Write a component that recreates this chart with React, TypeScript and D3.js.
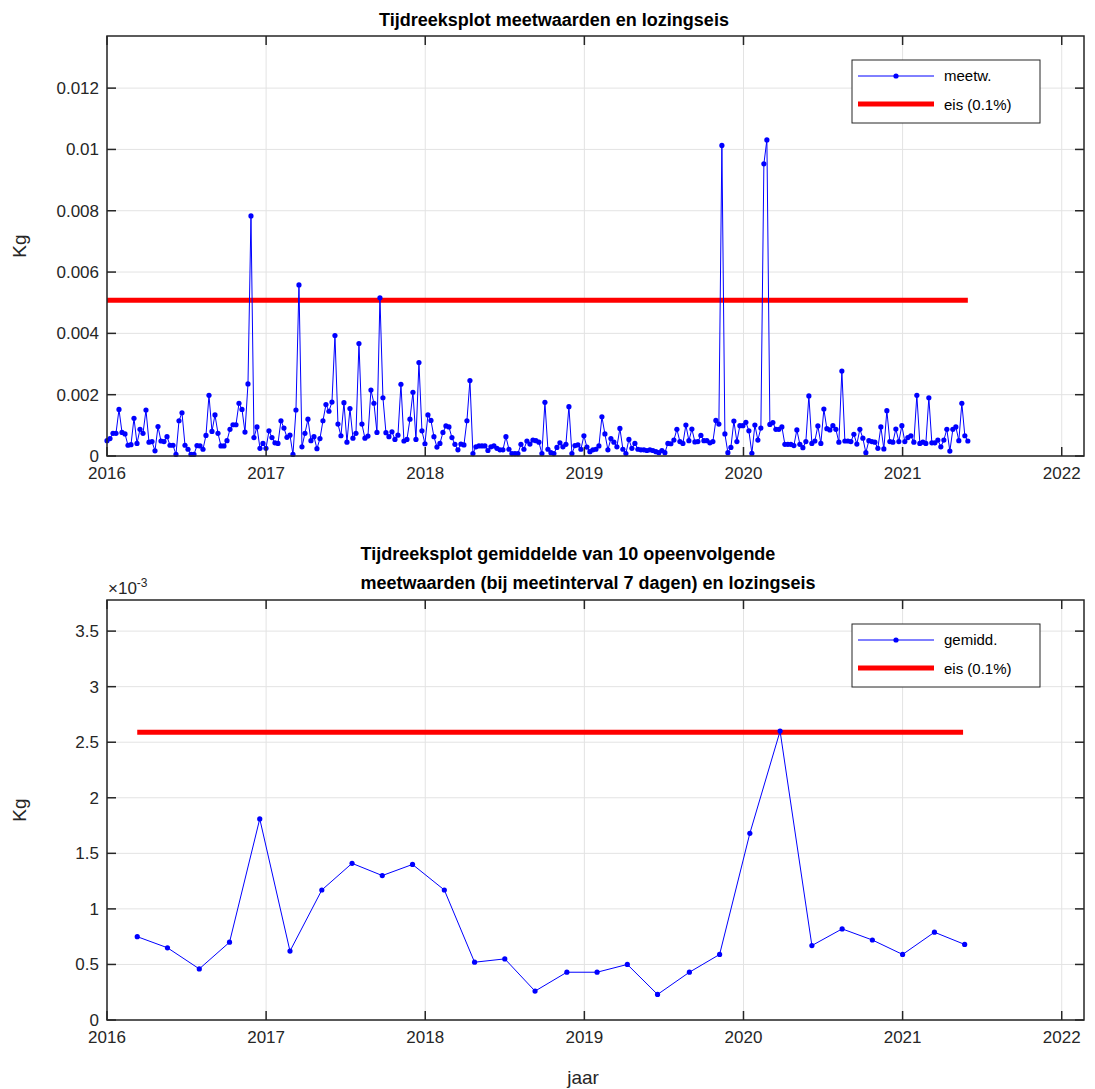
import React from 'react';
import * as d3 from 'd3';

// weekly measured values (x1e-3 Kg), 2016 .. mid 2021
const meetw = [
  0.50,0.57,0.74,0.74,1.52,0.77,0.72,0.35,0.37,1.23,0.41,0.87,0.74,1.50,0.45,0.47,0.17,0.96,0.49,0.47,
  0.63,0.35,0.35,0.05,1.15,1.41,0.35,0.22,0.05,0.05,0.34,0.33,0.22,0.67,1.98,0.80,1.34,0.74,0.33,0.33,
  0.50,0.87,1.02,1.02,1.72,1.52,0.78,2.35,7.83,0.60,0.95,0.25,0.41,0.25,0.82,0.60,0.43,0.41,1.15,0.91,
  0.61,0.68,0.05,1.50,5.58,0.30,0.74,1.20,0.50,0.63,0.24,0.57,1.15,1.68,1.46,1.76,3.93,1.04,0.66,1.74,
  0.45,1.55,0.58,0.74,3.67,1.04,0.58,0.65,2.15,1.72,0.77,5.16,1.90,0.76,0.63,0.79,0.54,0.68,2.34,0.49,
  0.54,1.20,2.08,0.54,3.05,0.82,0.40,1.34,1.16,0.63,0.29,0.41,0.77,0.98,0.95,0.60,0.38,0.20,0.39,0.36,
  1.15,2.46,0.08,0.30,0.33,0.33,0.33,0.18,0.30,0.33,0.25,0.20,0.20,0.63,0.22,0.08,0.08,0.08,0.38,0.22,
  0.49,0.39,0.52,0.50,0.45,0.08,1.75,0.22,0.11,0.08,0.28,0.43,0.30,0.38,1.61,0.08,0.34,0.36,0.22,0.66,
  0.29,0.14,0.20,0.22,0.33,1.28,0.72,0.20,0.57,0.45,0.30,0.90,0.22,0.08,0.54,0.25,0.41,0.22,0.20,0.20,
  0.18,0.20,0.18,0.14,0.11,0.18,0.11,0.41,0.40,0.52,0.87,0.47,0.41,1.01,0.50,0.88,0.46,0.47,0.67,0.50,
  0.50,0.43,0.47,1.16,1.04,10.13,0.72,0.11,0.28,1.14,0.47,0.99,0.99,1.10,0.82,0.09,1.01,0.52,0.91,9.53,
  10.31,1.03,1.09,0.87,0.87,0.95,0.38,0.38,0.38,0.34,0.85,0.38,0.27,0.47,1.96,0.41,0.49,0.98,0.41,1.53,
  0.89,0.85,0.99,0.87,0.45,2.77,0.49,0.49,0.47,0.71,0.39,0.87,0.58,0.11,0.50,0.47,0.45,0.25,0.95,0.23,
  1.48,0.47,0.45,0.88,0.47,0.99,0.47,0.60,0.66,0.45,1.98,0.41,0.45,0.41,1.90,0.43,0.43,0.52,0.30,0.52,
  0.87,0.16,0.87,0.95,0.50,1.72,0.66,0.49,
];
const meetwStart = 2016.0;
const meetwEnd = 2021.41;
const eisTop = 5.08; // x1e-3

// averages of 10 consecutive values
const gemYears = [2016.19,2016.38,2016.58,2016.77,2016.96,2017.15,2017.35,2017.54,2017.73,2017.92,
  2018.12,2018.31,2018.50,2018.69,2018.89,2019.08,2019.27,2019.46,2019.66,2019.85,2020.04,2020.23,
  2020.43,2020.62,2020.81,2021.00,2021.20,2021.39];
const gemVals = [0.75,0.65,0.46,0.70,1.81,0.62,1.17,1.41,1.30,1.40,1.17,0.52,0.55,0.26,0.43,0.43,
  0.50,0.23,0.43,0.59,1.68,2.60,0.67,0.82,0.72,0.59,0.79,0.68];
const eisBottom = 2.59;
const eisBottomRange = [2016.19, 2021.38];

const xDomain = [2016, 2022.14];
const xTicks = [2016, 2017, 2018, 2019, 2020, 2021, 2022];
const topTicks = [0, 2, 4, 6, 8, 10, 12];
const topTickLabels = ['0', '0.002', '0.004', '0.006', '0.008', '0.01', '0.012'];
const bottomTicks = [0, 0.5, 1, 1.5, 2, 2.5, 3, 3.5];

const FONT = 'Liberation Sans, Arial, sans-serif';
const L = 107, R = 1084;

type Pt = [number, number];

function Panel(props: {
  top: number; bottom: number; ymax: number; yticks: number[]; ylabels: string[];
  pts: Pt[]; eis: number; eisX: [number, number]; legend: string; legendY: number;
}) {
  const { top, bottom, ymax, yticks, ylabels, pts, eis, eisX, legend, legendY } = props;
  const x = d3.scaleLinear().domain(xDomain).range([L, R]);
  const y = d3.scaleLinear().domain([0, ymax]).range([bottom, top]);
  const line = d3.line<Pt>().x(d => x(d[0])).y(d => y(d[1]));
  const tl = 9;
  return (
    <g fontFamily={FONT}>
      {xTicks.map(t => (
        <line key={'gx' + t} x1={x(t)} x2={x(t)} y1={top} y2={bottom} stroke="#e3e3e3" />
      ))}
      {yticks.map(t => (
        <line key={'gy' + t} x1={L} x2={R} y1={y(t)} y2={y(t)} stroke="#e3e3e3" />
      ))}
      <line x1={x(eisX[0])} x2={x(eisX[1])} y1={y(eis)} y2={y(eis)} stroke="#ff0000" strokeWidth={5} />
      <path d={line(pts) || ''} fill="none" stroke="#0000ff" strokeWidth={1} />
      {pts.map((p, i) => (
        <circle key={i} cx={x(p[0])} cy={y(p[1])} r={2.6} fill="#0000ff" />
      ))}
      <rect x={L} y={top} width={R - L} height={bottom - top} fill="none" stroke="#262626" strokeWidth={1.5} />
      {xTicks.map(t => (
        <g key={'tx' + t}>
          <line x1={x(t)} x2={x(t)} y1={bottom} y2={bottom - tl} stroke="#262626" strokeWidth={1.5} />
          <line x1={x(t)} x2={x(t)} y1={top} y2={top + tl} stroke="#262626" strokeWidth={1.5} />
          <text x={x(t)} y={bottom + 23} textAnchor="middle" fontSize={17} fill="#262626">{t}</text>
        </g>
      ))}
      {yticks.map((t, i) => (
        <g key={'ty' + t}>
          <line x1={L} x2={L + tl} y1={y(t)} y2={y(t)} stroke="#262626" strokeWidth={1.5} />
          <line x1={R} x2={R - tl} y1={y(t)} y2={y(t)} stroke="#262626" strokeWidth={1.5} />
          <text x={L - 8} y={y(t) + 6} textAnchor="end" fontSize={17} fill="#262626">{ylabels[i]}</text>
        </g>
      ))}
      <text transform={`translate(26,${(top + bottom) / 2}) rotate(-90)`} textAnchor="middle" fontSize={19} fill="#262626">Kg</text>
      <g transform={`translate(852,${legendY})`}>
        <rect width={188} height={63} fill="#fff" stroke="#262626" strokeWidth={1} />
        <line x1={6} x2={82} y1={16} y2={16} stroke="#0000ff" strokeWidth={1} />
        <circle cx={44} cy={16} r={2.6} fill="#0000ff" />
        <text x={92} y={21} fontSize={15} fill="#000">{legend}</text>
        <line x1={6} x2={82} y1={44} y2={44} stroke="#ff0000" strokeWidth={5} />
        <text x={92} y={50} fontSize={15} fill="#000">eis (0.1%)</text>
      </g>
    </g>
  );
}

export default function App() {
  const n = meetw.length;
  const topPts: Pt[] = meetw.map((v, i) => [meetwStart + (i * (meetwEnd - meetwStart)) / (n - 1), v]);
  const botPts: Pt[] = gemYears.map((yr, i) => [yr, gemVals[i]]);
  return (
    <svg width={1095} height={1089} style={{ display: 'block', position: 'absolute', left: 0, top: 0 }}>
      <rect width={1095} height={1089} fill="#fff" />
      <text x={554} y={26} textAnchor="middle" fontFamily={FONT} fontWeight="bold" fontSize={18}>Tijdreeksplot meetwaarden en lozingseis</text>
      <Panel top={36} bottom={456} ymax={13.7} yticks={topTicks} ylabels={topTickLabels}
        pts={topPts} eis={eisTop} eisX={[meetwStart, meetwEnd]} legend="meetw." legendY={60} />
      <text x={568} y={560} textAnchor="middle" fontFamily={FONT} fontWeight="bold" fontSize={18}>Tijdreeksplot gemiddelde van 10 opeenvolgende</text>
      <text x={588} y={589} textAnchor="middle" fontFamily={FONT} fontWeight="bold" fontSize={18}>meetwaarden (bij meetinterval 7 dagen) en lozingseis</text>
      <Panel top={600} bottom={1020} ymax={3.78} yticks={bottomTicks} ylabels={bottomTicks.map(String)}
        pts={botPts} eis={eisBottom} eisX={eisBottomRange as [number, number]} legend="gemidd." legendY={624} />
      <text x={108} y={594} fontFamily={FONT} fontSize={17} fill="#262626">×10<tspan dy={-7} fontSize={12}>-3</tspan></text>
      <text x={583} y={1084} textAnchor="middle" fontFamily={FONT} fontSize={19} fill="#262626">jaar</text>
    </svg>
  );
}
